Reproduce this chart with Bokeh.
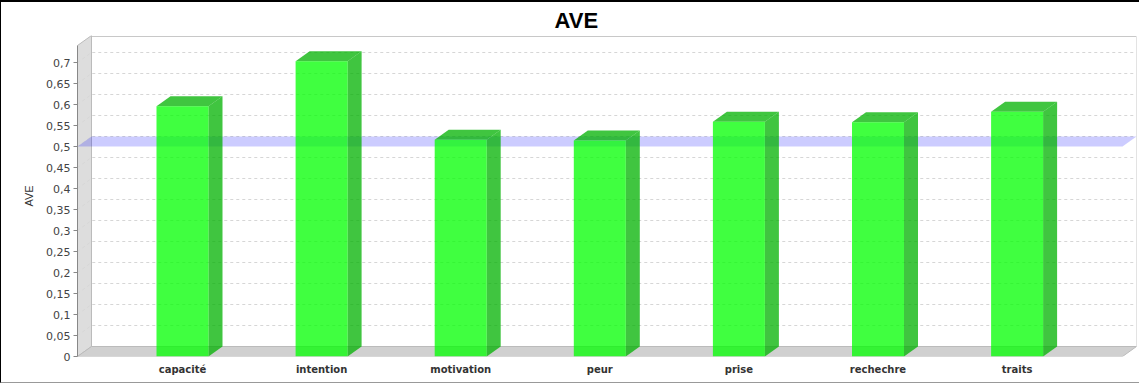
from bokeh.plotting import figure
from bokeh.models import Range1d, FixedTicker, CustomJSTickFormatter
from bokeh.embed import file_html
from bokeh.resources import INLINE

# ---- data ----
categories = ["capacité", "intention", "motivation", "peur", "prise", "rechechre", "traits"]
ave = [0.596, 0.703, 0.516, 0.514, 0.559, 0.558, 0.583]
threshold = 0.5
y_ticks = [round(0.05 * i, 2) for i in range(15)]

# ---- geometry (pixel-derived scale constants) ----
PX_PER_CAT = 139.1
PX_PER_UNIT = 420.0
FRAME_W, FRAME_H = 1059, 321
x_start = -105 / PX_PER_CAT
x_end = x_start + FRAME_W / PX_PER_CAT
y_end = FRAME_H / PX_PER_UNIT
dx = 14 / PX_PER_CAT
dy = 10 / PX_PER_UNIT
hw = 26 / PX_PER_CAT
x0 = x_start
x1 = x_end - dx

p = figure(width=1139, height=383, x_range=Range1d(x_start, x_end), y_range=Range1d(0, y_end),
           output_backend="svg", toolbar_location=None,
           min_border_left=76, min_border_right=4, min_border_top=33, min_border_bottom=29,
           background_fill_color="white", border_fill_color="white", outline_line_color=None)
p.styles = {"border-top": "2px solid black", "border-left": "1px solid black",
            "border-bottom": "1px solid #999999"}
p.grid.visible = False

# walls
p.quad(left=[x0 + dx], right=[x1 + dx], bottom=[dy], top=[y_end - 1 / PX_PER_UNIT],
       fill_color="white", line_color="#C8C8C8", line_width=1)
p.patch([x0, x0 + dx, x0 + dx, x0], [0, dy, y_end, y_end - dy],
        fill_color="#DDDDDD", line_color="#BBBBBB", line_width=1)
p.patch([x0, x1, x1 + dx, x0 + dx], [0, 0, dy, dy],
        fill_color="#D0D0D0", line_color="#BBBBBB", line_width=1)

# gridlines
gx = [[x0, x0 + dx, x1 + dx] for v in y_ticks[1:]]
gy = [[v, v + dy, v + dy] for v in y_ticks[1:]]
p.multi_line(gx, gy, line_color="#D6D6D6", line_width=1, line_dash="3 3")

# threshold band
p.patch([x0, x1, x1 + dx, x0 + dx], [threshold, threshold, threshold + dy, threshold + dy],
        fill_color="#0000FF", fill_alpha=0.2, line_color=None)

# bars
idx = list(range(len(categories)))
side_xs = [[k + hw, k + hw + dx, k + hw + dx, k + hw] for k in idx]
side_ys = [[0, dy, v + dy, v] for v in ave]
top_xs = [[k - hw, k + hw, k + hw + dx, k - hw + dx] for k in idx]
top_ys = [[v, v, v + dy, v + dy] for v in ave]
p.patches(side_xs, side_ys, fill_color="#00B200", fill_alpha=0.75, line_color=None)
p.patches(top_xs, top_ys, fill_color="#00B200", fill_alpha=0.75, line_color=None)
p.quad(left=[k - hw for k in idx], right=[k + hw for k in idx], bottom=0, top=ave,
       fill_color="#00FF00", fill_alpha=0.75, line_color=None)

# y axis
ya = p.yaxis[0]
ya.ticker = FixedTicker(ticks=y_ticks)
ya.formatter = CustomJSTickFormatter(
    code="if (Math.abs(tick) < 1e-9) return '0'; return tick.toFixed(2).replace(/0$/, '').replace('.', ',');")
ya.bounds = (0, y_end - dy)
ya.axis_label = "AVE"
ya.axis_label_text_font = "Liberation Sans"
ya.axis_label_text_font_style = "normal"
ya.axis_label_text_font_size = "11px"
ya.axis_label_text_color = "#333333"
ya.axis_label_standoff = 8
ya.axis_line_color = "#888888"
ya.major_tick_line_color = "#888888"
ya.major_tick_out = 4
ya.major_tick_in = 0
ya.minor_tick_line_color = None
ya.major_label_text_font = "DejaVu Sans"
ya.major_label_text_font_size = "11px"
ya.major_label_text_color = "#444444"
ya.major_label_standoff = 3

# x axis
xa = p.xaxis[0]
xa.ticker = FixedTicker(ticks=idx)
xa.major_label_overrides = {k: c for k, c in zip(idx, categories)}
xa.axis_line_color = None
xa.major_tick_line_color = None
xa.minor_tick_line_color = None
xa.major_label_text_font = "DejaVu Sans"
xa.major_label_text_font_style = "bold"
xa.major_label_text_font_size = "10px"
xa.major_label_text_color = "#333333"
xa.major_label_standoff = 1

# title
p.title.text = "AVE"
p.title.align = "left"
p.title.offset = 477
p.title.text_font = "Liberation Sans"
p.title.text_font_style = "bold"
p.title.text_font_size = "22px"
p.title.text_line_height = 0.85
p.title.text_color = "black"
p.title.standoff = 5

open("out.html", "w").write(file_html(p, INLINE))
